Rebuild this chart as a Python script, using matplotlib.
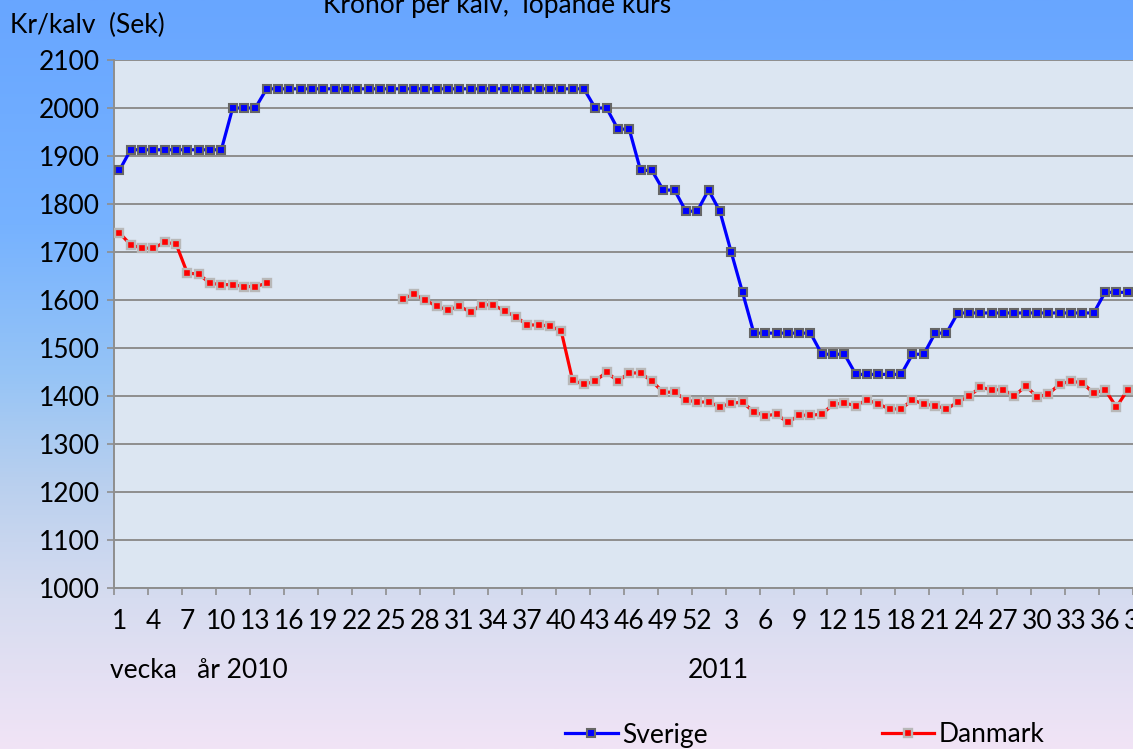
import numpy as np
import matplotlib
matplotlib.use("Agg")
import matplotlib.pyplot as plt
from matplotlib.colors import LinearSegmentedColormap
from matplotlib.patches import Rectangle

# ---------------- data ----------------
weeks_2010 = list(range(1, 53))
weeks_2011 = list(range(1, 40))
tick_labels = [str(w) for w in weeks_2010] + [str(w) for w in weeks_2011]

sverige = ([1870] + [1913] * 9 + [2000] * 3 + [2040] * 29 +
           [2000, 2000, 1956, 1956, 1870, 1870, 1829, 1829, 1785, 1785,
            1829, 1785, 1700, 1616] +
           [1531] * 6 + [1487] * 3 + [1445] * 5 + [1487] * 2 + [1531] * 2 +
           [1573] * 13 + [1616] * 4)

nan = np.nan
danmark = ([1740, 1715, 1708, 1708, 1720, 1717, 1656, 1654, 1635, 1632,
            1632, 1628, 1628, 1635] + [nan] * 11 +
           [1602, 1612, 1600, 1587, 1579, 1587, 1575, 1590, 1590, 1577,
            1565, 1548, 1548, 1546, 1535, 1433, 1424, 1431, 1450, 1431,
            1448, 1448, 1431, 1408, 1408, 1392, 1387, 1388, 1377, 1385,
            1387, 1367, 1359, 1362, 1345, 1360, 1360, 1362, 1383, 1385,
            1380, 1392, 1383, 1373, 1373, 1392, 1383, 1380, 1373, 1387,
            1400, 1418, 1413, 1413, 1400, 1421, 1398, 1404, 1425, 1431,
            1427, 1406, 1413, 1377, 1413, 1425])

n = len(sverige)
x = np.arange(1, n + 1)
y_ticks = list(range(1000, 2101, 100))

# ---------------- figure ----------------
W, H = 1145, 749
fig = plt.figure(figsize=(W / 100, H / 100), dpi=100)
FONT = ["Lato", "DejaVu Sans"]
plt.rcParams["font.family"] = FONT
FS = 19

# background gradient
bg = fig.add_axes([0, 0, 1, 1], zorder=-10)
stops = [(0.0, (104/255, 166/255, 255/255)),
         (0.30, (118/255, 178/255, 255/255)),
         (0.50, (150/255, 196/255, 246/255)),
         (0.65, (186/255, 208/255, 238/255)),
         (0.80, (214/255, 220/255, 240/255)),
         (1.0, (241/255, 228/255, 246/255))]
cmap = LinearSegmentedColormap.from_list("bg", stops)
grad = np.linspace(0, 1, 256).reshape(-1, 1)
bg.imshow(grad, aspect="auto", cmap=cmap, extent=[0, 1, 0, 1], origin="upper")
bg.set_axis_off()

# main axes: category 1 center at x=119.4 px, 11.33 px per category
left_px = 113.7
step = 11.33
xmin, xmax = 0.5, 91.5
right_px = left_px + (xmax - xmin) * step
top_px, bot_px = 60, 588
ax = fig.add_axes([left_px / W, 1 - bot_px / H, (right_px - left_px) / W,
                   (bot_px - top_px) / H])
ax.set_facecolor("#dce6f2")
ax.set_xlim(xmin, xmax)
ax.set_ylim(1000, 2100)

grid_c = "#8e8e8e"
ax.set_yticks(y_ticks)
ax.yaxis.grid(True, color=grid_c, linewidth=1.4)
ax.set_axisbelow(True)
for s in ["top", "right"]:
    ax.spines[s].set_visible(False)
ax.spines["left"].set_color(grid_c)
ax.spines["left"].set_linewidth(1.4)
ax.spines["bottom"].set_color(grid_c)
ax.spines["bottom"].set_linewidth(1.4)

ax.tick_params(axis="y", length=5, width=1.2, color=grid_c, pad=5,
               labelsize=FS, labelcolor="black")

# x: ticks at category boundaries every 3, labels at category centres
ax.set_xticks(np.arange(0.5, xmax + 0.01, 3))
ax.set_xticklabels([])
lab_pos = np.arange(1, n + 1, 3)
ax.set_xticks(lab_pos, minor=True)
ax.set_xticklabels([tick_labels[i - 1] for i in lab_pos], minor=True)
ax.tick_params(axis="x", which="major", length=5, width=1.2, color=grid_c)
ax.tick_params(axis="x", which="minor", length=0, pad=15, labelsize=FS)

ax.plot(x, sverige, color="#0000ff", linewidth=2.3, marker="s",
        markersize=5.4, markerfacecolor="#0000ff", markeredgecolor="#666666",
        markeredgewidth=1.5, label="Sverige", zorder=3, clip_on=True)
ax.plot(x, danmark, color="#ff0000", linewidth=2.3, marker="s",
        markersize=5.4, markerfacecolor="#ff0000", markeredgecolor="#b8b8b8",
        markeredgewidth=1.7, label="Danmark", zorder=3, clip_on=True)

# texts
fig.text(10 / W, 1 - 25 / H, "Kr/kalv  (Sek)", fontsize=FS, ha="left",
         va="center")
fig.text(497 / W, 1 - 5 / H, "Kronor per kalv,  löpande kurs", fontsize=FS,
         ha="center", va="center")
fig.text(110 / W, 1 - 671 / H, "vecka   år 2010", fontsize=FS, ha="left",
         va="center")
fig.text(688 / W, 1 - 671 / H, "2011", fontsize=FS, ha="left", va="center")

leg = fig.legend(loc="center left", bbox_to_anchor=(565 / W, 1 - 735 / H),
                 ncol=2, frameon=False, fontsize=FS, handlelength=2.0,
                 handletextpad=0.15, columnspacing=6.6, borderpad=0,
                 borderaxespad=0)

# the reference image is cropped at x=1133 with white padding on the right
fig.patches.append(Rectangle((1133 / W, 0), 1 - 1133 / W, 1,
                             transform=fig.transFigure, facecolor="white",
                             edgecolor="none", zorder=100))

fig.savefig("out.png", dpi=100)
